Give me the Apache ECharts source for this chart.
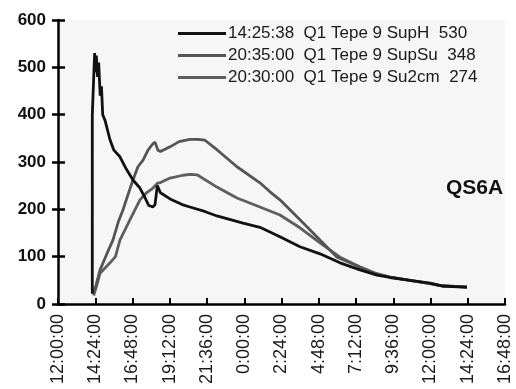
<!DOCTYPE html>
<html>
<head>
<meta charset="utf-8">
<script src="https://cdn.jsdelivr.net/npm/echarts@6/dist/echarts.min.js"></script>
<style>
  html, body {margin: 0; padding: 0; background: #fff;}
  #main {width: 516px; height: 389px;}
</style>
</head>
<body>
<div id="main"></div>
<script>
// x values are hours since midnight of day 1 (so 24+ is the next day)
const seriesNames = [
  '14:25:38  Q1 Tepe 9 SupH  530',
  '20:35:00  Q1 Tepe 9 SupSu  348',
  '20:30:00  Q1 Tepe 9 Su2cm  274'
];
const supH = [
  [14.21, 22], [14.21, 400], [14.32, 400], [14.36, 530], [14.42, 490], [14.47, 525],
  [14.55, 480], [14.62, 510], [14.72, 440], [14.80, 460], [14.88, 400], [15.03, 388],
  [15.35, 347], [15.60, 325], [15.99, 311], [16.40, 285], [16.83, 262], [17.28, 245],
  [17.60, 225], [17.85, 208], [18.12, 205], [18.25, 210], [18.40, 250], [18.60, 235],
  [19.22, 222], [20.00, 210], [20.50, 205], [21.50, 195], [22.24, 186], [23.92, 171],
  [25.01, 162], [26.30, 142], [27.59, 121], [28.88, 106], [30.17, 87], [31.46, 72],
  [32.55, 61], [33.39, 56], [34.68, 50], [35.97, 44], [36.81, 38], [38.35, 35]
];
const supSu = [
  [14.25, 20], [14.45, 40], [14.71, 72], [15.20, 110], [15.54, 135], [15.90, 175],
  [16.19, 199], [16.50, 230], [16.83, 262], [17.15, 290], [17.48, 304], [17.80, 325],
  [18.10, 338], [18.25, 342], [18.44, 325], [18.60, 322], [19.22, 332], [19.80, 343],
  [20.50, 348], [21.00, 348], [21.47, 346], [22.24, 326], [23.53, 290], [25.01, 256],
  [25.66, 237], [26.30, 220], [27.59, 178], [28.88, 135], [29.98, 99], [31.46, 78],
  [32.55, 64], [33.39, 57], [34.68, 50], [35.97, 43], [36.81, 38], [38.35, 36]
];
const su2cm = [
  [14.30, 18], [14.50, 40], [14.71, 65], [15.35, 87], [15.70, 100], [15.99, 135],
  [16.64, 178], [17.28, 220], [17.70, 235], [18.12, 245], [18.44, 256], [18.57, 256],
  [19.22, 266], [20.05, 272], [20.50, 274], [20.96, 273], [22.24, 247], [23.53, 224],
  [25.01, 205], [26.30, 188], [27.59, 161], [28.88, 129], [30.17, 99], [31.46, 78],
  [32.55, 63], [33.39, 57], [34.68, 50], [35.97, 43], [36.81, 38], [38.35, 36]
];
const colors = ['#111111', '#555555', '#5e5e5e'];

function hourLabel(v) {
  const mins = Math.round(v * 60);
  const h = Math.floor(mins / 60) % 24;
  const m = mins % 60;
  return h + ':' + String(m).padStart(2, '0') + ':00';
}

const chart = echarts.init(document.getElementById('main'));
const axisLine = {lineStyle: {color: '#000', width: 2.5}};
const font = 'Liberation Sans, Arial';

chart.setOption({
  animation: false,
  backgroundColor: '#fff',
  title: {
    text: 'QS6A', left: 441, top: 173,
    textStyle: {fontFamily: font, fontWeight: 'bold', fontSize: 21, color: '#111'}
  },
  legend: {
    orient: 'vertical', left: 173, top: 20, itemGap: 5,
    itemWidth: 48, itemHeight: 3, icon: 'rect',
    textStyle: {fontFamily: font, fontSize: 17, color: '#1a1a1a', padding: [0, 0, 0, -3]},
    data: seriesNames
  },
  grid: {
    left: 58, right: 11, top: 20, bottom: 85,
    show: true, backgroundColor: '#f6f6f6', borderWidth: 0
  },
  xAxis: {
    type: 'value', min: 12, max: 40.8, interval: 2.4,
    axisLine: axisLine,
    axisTick: {show: true, inside: true, length: 6, lineStyle: {color: '#000', width: 2}},
    splitLine: {show: false},
    axisLabel: {
      rotate: 90, margin: 10, formatter: hourLabel,
      fontFamily: font, fontSize: 18, color: '#1a1a1a'
    }
  },
  yAxis: [{
    type: 'value', min: 0, max: 600, interval: 100,
    axisLine: axisLine,
    axisTick: {show: true, length: 6, lineStyle: {color: '#000', width: 2.5}},
    splitLine: {show: false},
    axisLabel: {margin: 12, fontFamily: font, fontWeight: 'bold', fontSize: 17, color: '#111'}
  }, {
    type: 'value', min: 0, max: 600, interval: 100, position: 'left',
    axisLine: {show: false},
    axisTick: {show: true, inside: true, length: 7, lineStyle: {color: '#000', width: 2.5}},
    axisLabel: {show: false},
    splitLine: {show: false}
  }],
  series: [supH, supSu, su2cm].map((d, i) => ({
    name: seriesNames[i],
    type: 'line',
    data: d,
    symbol: 'none',
    z: 3 - i,
    color: colors[i],
    lineStyle: {width: 2.8, color: colors[i]}
  }))
});
</script>
</body>
</html>
